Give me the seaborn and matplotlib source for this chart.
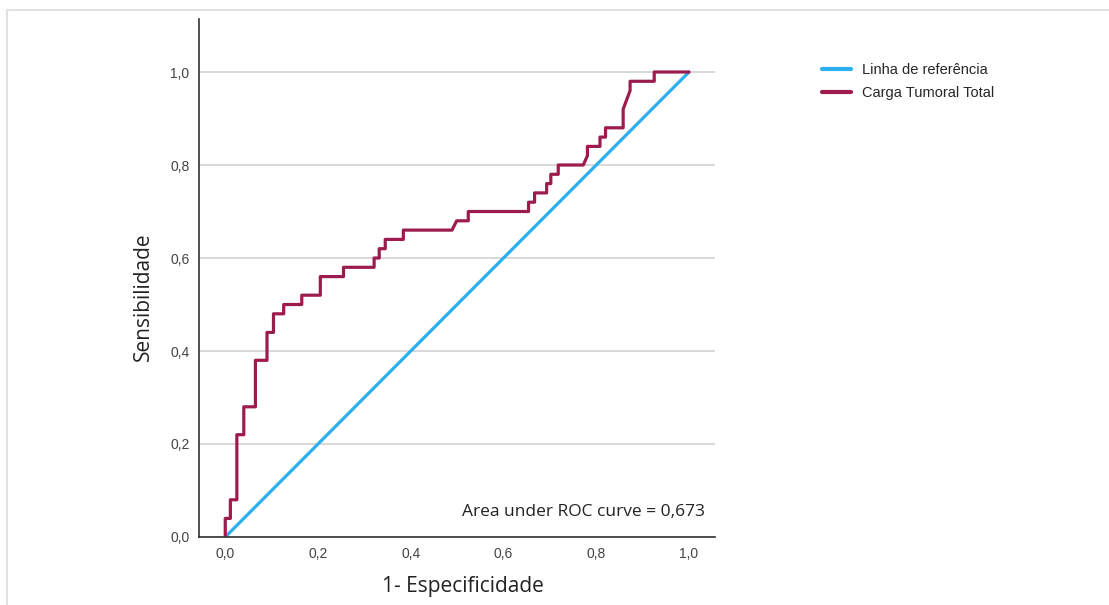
import pandas as pd
import seaborn as sns
import matplotlib.pyplot as plt
from matplotlib.patches import Rectangle

# ROC curve vertices
fpr = [0.0, 0.0, 0.011, 0.011, 0.025, 0.025, 0.04, 0.04, 0.065, 0.065, 0.09, 0.09,
       0.104, 0.104, 0.126, 0.126, 0.165, 0.165, 0.205, 0.205, 0.255, 0.255, 0.321, 0.321,
       0.332, 0.332, 0.345, 0.345, 0.384, 0.384, 0.489, 0.499, 0.524, 0.524, 0.654, 0.654,
       0.667, 0.667, 0.693, 0.693, 0.702, 0.702, 0.718, 0.718, 0.772, 0.781, 0.781, 0.808,
       0.808, 0.82, 0.82, 0.858, 0.858, 0.873, 0.873, 0.925, 0.925, 1.0]
tpr = [0.0, 0.04, 0.04, 0.08, 0.08, 0.22, 0.22, 0.28, 0.28, 0.38, 0.38, 0.44,
       0.44, 0.48, 0.48, 0.50, 0.50, 0.52, 0.52, 0.56, 0.56, 0.58, 0.58, 0.60,
       0.60, 0.62, 0.62, 0.64, 0.64, 0.66, 0.66, 0.68, 0.68, 0.70, 0.70, 0.72,
       0.72, 0.74, 0.74, 0.76, 0.76, 0.78, 0.78, 0.80, 0.80, 0.82, 0.84, 0.84,
       0.86, 0.86, 0.88, 0.88, 0.92, 0.96, 0.98, 0.98, 1.0, 1.0]
ref_x = [0.0, 1.0]
ref_y = [0.0, 1.0]
series_names = ["Linha de referência", "Carga Tumoral Total"]
auc_text = "Area under ROC curve = 0,673"
ticks = [0.0, 0.2, 0.4, 0.6, 0.8, 1.0]
tick_labels = ["0,0", "0,2", "0,4", "0,6", "0,8", "1,0"]

df = pd.concat([
    pd.DataFrame({"x": ref_x, "y": ref_y, "serie": series_names[0]}),
    pd.DataFrame({"x": fpr, "y": tpr, "serie": series_names[1]}),
], ignore_index=True)

sns.set_style("white")
plt.rcParams["font.family"] = ["Liberation Sans", "DejaVu Sans"]
label_font = ["Open Sans", "DejaVu Sans"]

fig = plt.figure(figsize=(11.09, 6.05), dpi=100)
ax = fig.add_axes([0.1797, 0.1124, 0.465, 0.8562])

# light frame around the chart area
fig.patches.append(Rectangle((7 / 1109, -0.1), 1.2, 1.1 - 10 / 605, transform=fig.transFigure,
                             fill=False, edgecolor="#e2e2e2", linewidth=1.5))

palette = {series_names[0]: "#2ab0ef", series_names[1]: "#9c1c4e"}
sns.lineplot(data=df, x="x", y="y", hue="serie", palette=palette, sort=False,
             estimator=None, linewidth=2.3, ax=ax, legend=True)

ax.set_xlim(-0.056, 1.056)
ax.set_ylim(0, 1.114)
ax.set_xticks(ticks)
ax.set_xticklabels(tick_labels)
ax.set_yticks(ticks)
ax.set_yticklabels(tick_labels)
ax.tick_params(length=0, labelsize=10, labelcolor="#444444", pad=7)
ax.yaxis.grid(True, color="#d2d2d2", linewidth=1.2)
ax.set_axisbelow(True)
for s in ["top", "right"]:
    ax.spines[s].set_visible(False)
for s in ["left", "bottom"]:
    ax.spines[s].set_color("#333333")
    ax.spines[s].set_linewidth(1.2)

ax.set_xlabel("1- Especificidade", fontsize=15, family=label_font, color="#222222")
ax.set_ylabel("Sensibilidade", fontsize=15, family=label_font, color="#222222")
ax.xaxis.set_label_coords(0.512, -0.076)
ax.yaxis.set_label_coords(-0.088, 0.463)

ax.text(1.034, 0.054, auc_text, ha="right", va="center", fontsize=12.5,
        family=label_font, color="#222222")

leg = ax.legend(loc="upper left", bbox_to_anchor=(1.207, 0.915), frameon=False,
                borderaxespad=0, borderpad=0,
                handlelength=2.0, handletextpad=0.75, labelspacing=0.6,
                prop={"family": ["Liberation Sans", "DejaVu Sans"], "size": 10.5})
for line in leg.get_lines():
    line.set_linewidth(3)

fig.savefig("out.png", dpi=100)
